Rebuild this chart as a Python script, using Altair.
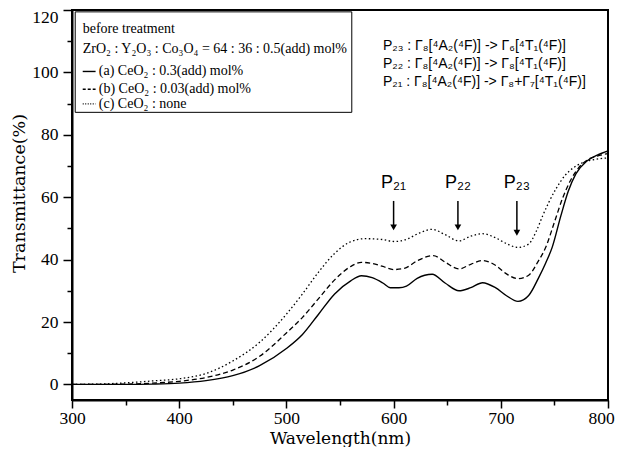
import altair as alt
import pandas as pd

# ---- data ----
wl_a = [300, 350, 375, 400, 425, 450, 475, 500, 515, 530, 545, 560, 570, 580, 590, 597, 605, 612, 622, 636, 648, 661, 672, 683, 695, 705, 716, 726, 735, 742, 748, 756, 763, 770, 780, 790, 800]
t_a = [0, 0, 0.1, 0.4, 1.2, 2.8, 6, 11.5, 16, 22.5, 29, 33.2, 34.8, 34.2, 32.5, 31, 31, 31.5, 34, 35.3, 32.5, 30, 31, 32.6, 31, 28.5, 26.6, 28.5, 34, 39, 44, 54, 62, 67.5, 71.5, 73.5, 74.8]

wl_b = [300, 325, 350, 375, 400, 425, 450, 475, 500, 515, 530, 545, 560, 570, 580, 590, 600, 610, 622, 637, 648, 661, 672, 683, 695, 705, 716, 726, 735, 742, 750, 758, 766, 774, 782, 790, 800]
t_b = [0, 0, 0.1, 0.4, 1, 2.2, 4.6, 9, 16.5, 21.5, 27.5, 33.5, 37.8, 39.1, 38.8, 37.8, 36.8, 37.2, 39.6, 41.3, 39.2, 37, 38.5, 39.7, 38.2, 35.5, 33.9, 35, 39.5, 44, 52, 60, 66, 70, 72.2, 73.2, 74]

wl_c = [300, 325, 350, 375, 400, 425, 450, 475, 500, 515, 530, 545, 558, 573, 588, 601, 612, 624, 636, 648, 661, 672, 683, 695, 706, 716, 726, 733, 739, 745, 752, 760, 768, 776, 786, 800]
t_c = [0, 0.1, 0.5, 1.1, 1.8, 3.5, 7.5, 13.5, 22.5, 29, 36, 42, 45.4, 46.7, 46.5, 45.8, 46.5, 48.5, 49.7, 48, 46, 47.5, 48.3, 47, 45, 43.9, 45, 49, 54, 58.5, 63, 67, 69.5, 71, 72, 72.6]

legend_title = "before treatment"
legend_comp = "ZrO₂ : Y₂O₃ : Co₃O₄ = 64 : 36 : 0.5(add) mol%"
legend_labels = ["(a) CeO₂ : 0.3(add) mol%", "(b) CeO₂ : 0.03(add) mol%", "(c) CeO₂ : none"]

trans_labels = [
    "P₂₃ : Γ₈[⁴A₂(⁴F)]  -> Γ₆[⁴T₁(⁴F)]",
    "P₂₂ : Γ₈[⁴A₂(⁴F)]  -> Γ₈[⁴T₁(⁴F)]",
    "P₂₁ : Γ₈[⁴A₂(⁴F)]  -> Γ₈+Γ₇[⁴T₁(⁴F)]",
]
peak_names = ["P₂₁", "P₂₂", "P₂₃"]
peak_wl = [600, 660, 715]
peak_tip = [49.0, 49.0, 47.3]

# ---- build tables ----
def series_df(w, t):
    return pd.DataFrame({"x": w, "y": t})

df_a = series_df(wl_a, t_a)
df_b = series_df(wl_b, t_b)
df_c = series_df(wl_c, t_c)

SERIF = "Liberation Serif"
TSERIF = "DejaVu Serif"
SANS = "Liberation Sans"

xs = alt.Scale(domain=[300, 800], nice=False, zero=False)
ys = alt.Scale(domain=[-5, 120], nice=False, zero=False)

xaxis = alt.Axis(
    values=list(range(300, 801, 50)),
    labelExpr="datum.value % 100 === 0 ? datum.label : ''",
    labelFlush=False,
    labelOffset={"condition": {"test": "datum.value === 800", "value": -7}, "value": 0},
    title="Wavelength(nm)", grid=False,
    domainColor="black", domainWidth=2, tickColor="black", tickWidth=1.5,
    tickSize={"condition": {"test": "datum.value % 100 === 0", "value": 8}, "value": 5},
    labelFont=SERIF, labelFontSize=17.5, labelColor="black", labelPadding=1,
    titleFont=TSERIF, titleFontSize=17, titleFontWeight="normal", titleColor="black",
    titleX=268, titleY=38, titleBaseline="middle", titleAlign="center",
)
yaxis = alt.Axis(
    values=list(range(0, 121, 10)),
    labelExpr="datum.value % 20 === 0 ? datum.label : ''",
    labelFlush=True, labelFlushOffset=2,
    title="Transmittance(%)", grid=False,
    domainColor="black", domainWidth=2, tickColor="black", tickWidth=1.5,
    tickSize={"condition": {"test": "datum.value % 20 === 0", "value": 9}, "value": 5},
    labelFont=SERIF, labelFontSize=17.5, labelColor="black", labelPadding=5,
    titleFont=TSERIF, titleFontSize=17.5, titleFontWeight="normal", titleColor="black",
    titleX=-53, titleY=183, titleBaseline="middle", titleAlign="center", titleAngle=270,
)

def X(f="x"):
    return alt.X(f"{f}:Q", scale=xs, axis=xaxis)

def Y(f="y"):
    return alt.Y(f"{f}:Q", scale=ys, axis=yaxis)

line_a = alt.Chart(df_a).mark_line(color="black", strokeWidth=1.4, interpolate="monotone").encode(x=X(), y=Y())
line_b = alt.Chart(df_b).mark_line(color="black", strokeWidth=1.3, strokeDash=[5, 3], interpolate="monotone").encode(x=X(), y=Y())
line_c = alt.Chart(df_c).mark_line(color="black", strokeWidth=1.3, strokeDash=[1.5, 2.5], interpolate="monotone").encode(x=X(), y=Y())

# legend box
box_df = pd.DataFrame({"x": [303], "x2": [561], "y": [87.2], "y2": [119.4]})
box = alt.Chart(box_df).mark_rect(fill="white", stroke="black", strokeWidth=1).encode(
    x=X(), x2="x2:Q", y=Y(), y2="y2:Q")

head_df = pd.DataFrame({"x": [310, 310], "y": [114.0, 107.6], "t": [legend_title, legend_comp]})
head = alt.Chart(head_df).mark_text(align="left", baseline="middle", font=SERIF, fontSize=14, color="black").encode(
    x=X(), y=Y(), text="t:N")

leg_y = [100.3, 94.6, 89.9]
lab_df = pd.DataFrame({"x": [325] * 3, "y": leg_y, "t": legend_labels})
labs = alt.Chart(lab_df).mark_text(align="left", baseline="middle", font=SERIF, fontSize=14, color="black").encode(
    x=X(), y=Y(), text="t:N")

def sample(yv, dash, w):
    d = pd.DataFrame({"x": [310], "x2": [322], "y": [yv]})
    kw = dict(color="black", strokeWidth=w)
    if dash:
        kw["strokeDash"] = dash
    return alt.Chart(d).mark_rule(**kw).encode(x=X(), x2="x2:Q", y=Y())

s_a = sample(leg_y[0], None, 1.4)
s_b = sample(leg_y[1], [3, 2], 1.3)
s_c = sample(leg_y[2], [1, 1.5], 1.3)

tr_df = pd.DataFrame({"x": [590] * 3, "y": [108.5, 102.7, 96.8], "t": trans_labels})
trans = alt.Chart(tr_df).mark_text(align="left", baseline="middle", font=SANS, fontSize=14, color="black").encode(
    x=X(), y=Y(), text="t:N")

pk_df = pd.DataFrame({"x": peak_wl, "y": [64.5] * 3, "top": [58.8] * 3,
                      "tip": peak_tip, "head": [t + 1.3 for t in peak_tip], "t": peak_names})
pk_text = alt.Chart(pk_df).mark_text(align="center", baseline="middle", font=SANS, fontSize=18, color="black").encode(
    x=X(), y=Y(), text="t:N")
pk_rule = alt.Chart(pk_df).mark_rule(color="black", strokeWidth=1.5).encode(x=X(), y=Y("top"), y2="head:Q")
pk_head = alt.Chart(pk_df).mark_point(shape="triangle-down", filled=True, color="black", size=45, opacity=1).encode(
    x=X(), y=Y("head"))

chart = alt.layer(
    box, line_c, line_b, line_a, head, labs, s_a, s_b, s_c, trans, pk_text, pk_rule, pk_head
).properties(
    width=536, height=390,
    autosize=alt.AutoSizeParams(type="none"),
    padding={"left": 64, "top": 2, "right": 7, "bottom": 47},
).configure_view(stroke="black", strokeWidth=2)

chart.save("out.html", embed_options={"renderer": "svg", "actions": False})
